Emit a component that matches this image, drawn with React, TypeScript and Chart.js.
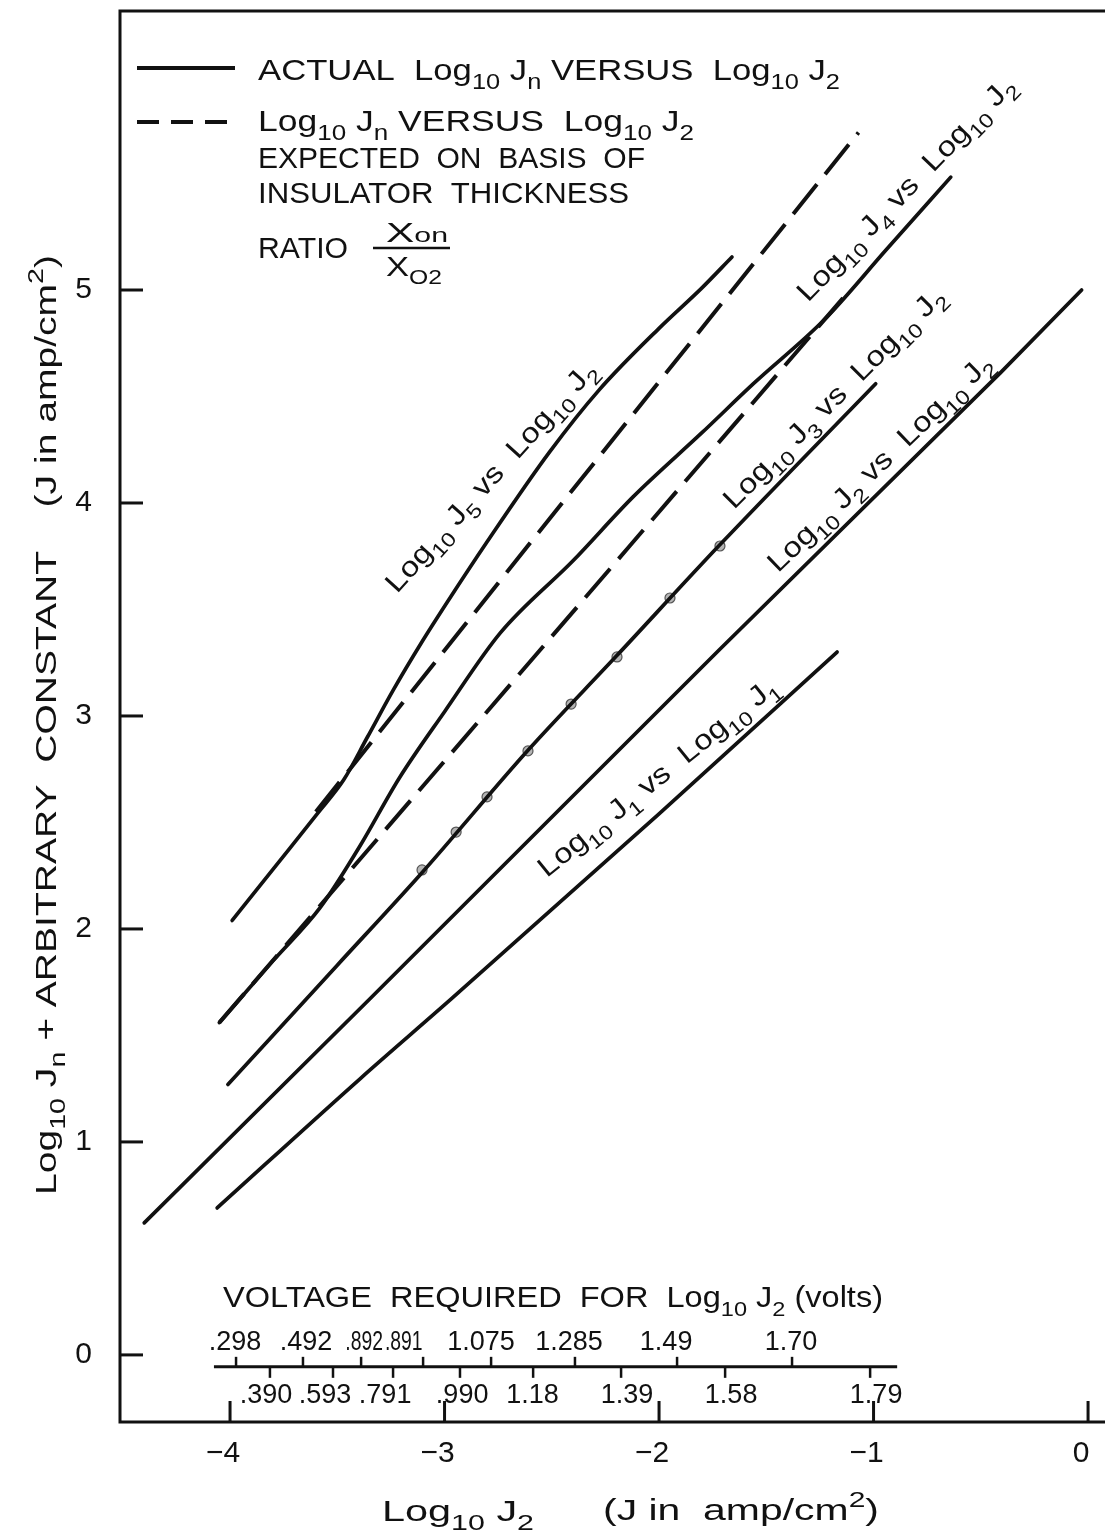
import React, { useEffect, useRef } from 'react';
import { Chart, registerables } from 'chart.js';

Chart.register(...registerables);

const FONT = '"Liberation Sans", Arial, sans-serif';
const INK = '#111111';

// axis ranges and ticks (Log10 J2 on x, Log10 Jn + const on y)
const X_MIN = -4.513;
const X_MAX = 0.079;
const Y_MIN = -0.315;
const Y_MAX = 6.31;
const xTicks = [-4, -3, -2, -1, 0];
const yTicks = [0, 1, 2, 3, 4, 5];

// actual curves (solid)
const j5X = [-3.99, -3.8, -3.59, -3.47, -3.36, -3.24, -3.11, -2.99, -2.8, -2.51, -2.28, -2.0, -1.8, -1.66];
const j5Y = [2.04, 2.28, 2.545, 2.7, 2.9, 3.12, 3.34, 3.53, 3.82, 4.24, 4.53, 4.82, 5.01, 5.155];

const j4X = [-4.05, -3.8, -3.58, -3.4, -3.21, -3.0, -2.74, -2.4, -2.12, -1.8, -1.56, -1.23, -0.94, -0.64];
const j4Y = [1.56, 1.85, 2.1, 2.38, 2.71, 3.02, 3.39, 3.73, 4.03, 4.33, 4.56, 4.86, 5.19, 5.53];

const j3X = [-4.01, -3.5, -3.1, -2.61, -2.2, -1.72, -0.99];
const j3Y = [1.27, 1.83, 2.27, 2.84, 3.28, 3.8, 4.56];

const j3PointsX = [-3.105, -2.946, -2.802, -2.611, -2.41, -2.196, -1.949, -1.716];
const j3PointsY = [2.277, 2.455, 2.62, 2.836, 3.056, 3.277, 3.554, 3.798];

const j2X = [-4.4, -3.35, -1.72, -0.41, -0.03];
const j2Y = [0.62, 1.67, 3.31, 4.61, 5.0];

const j1X = [-4.06, -3.39, -2.97, -2.0, -1.17];
const j1Y = [0.69, 1.3, 1.67, 2.54, 3.3];

// expected curves (dashed)
const j5ExpX = [-3.6, -2.555, -1.07];
const j5ExpY = [2.55, 3.87, 5.74];
const j4ExpX = [-4.05, -2.144, -1.11];
const j4ExpY = [1.56, 3.79, 5.0];

// voltage scale for Log10 J2
const voltY = -0.056;
const voltStart = -4.075;
const voltEnd = -0.89;
const voltUpperLabels = ['.298', '.492', '.892', '.891', '1.075', '1.285', '1.49', '1.70'];
const voltUpperTicks = [-3.972, -3.66, -3.389, -3.1, -2.783, -2.392, -1.916, -1.38];
const voltUpperLabelX = [-3.977, -3.646, -3.375, -3.19, -2.83, -2.42, -1.967, -1.385];
const voltLowerLabels = ['.390', '.593', '.791', '.990', '1.18', '1.39', '1.58', '1.79'];
const voltLowerTicks = [-3.814, -3.52, -3.24, -2.928, -2.587, -2.177, -1.692, -1.016];
const voltLowerLabelX = [-3.832, -3.557, -3.277, -2.918, -2.59, -2.149, -1.664, -0.988];

type Seg = [string, number]; // 0 normal, 1 subscript, 2 superscript, 3 small on baseline

const zip = (xs: number[], ys: number[]) => xs.map((v, i) => ({ x: v, y: ys[i] }));

function drawRich(
  ctx: CanvasRenderingContext2D,
  segs: Seg[],
  x: number,
  y: number,
  size: number,
  o: { align?: string; width?: number; maxWidth?: number; angle?: number; mid?: boolean } = {}
) {
  const subSize = Math.round(size * 0.72);
  const fontOf = (k: number) => `${k === 0 ? size : subSize}px ${FONT}`;
  ctx.save();
  let W = 0;
  const ws = segs.map(([t, k]) => {
    ctx.font = fontOf(k);
    const w = ctx.measureText(t).width;
    W += w;
    return w;
  });
  ctx.translate(x, y);
  if (o.angle) ctx.rotate((o.angle * Math.PI) / 180);
  let sx = o.width ? o.width / W : 1;
  if (o.maxWidth && W * sx > o.maxWidth) sx = o.maxWidth / W;
  ctx.scale(sx, 1);
  let cx = o.align === 'center' ? -W / 2 : o.align === 'right' ? -W : 0;
  const base = o.mid ? size * 0.36 : 0;
  ctx.fillStyle = INK;
  ctx.textBaseline = 'alphabetic';
  ctx.textAlign = 'left';
  segs.forEach(([t, k], i) => {
    ctx.font = fontOf(k);
    const dy = k === 1 ? size * 0.3 : k === 2 ? -size * 0.42 : 0;
    ctx.fillText(t, cx, base + dy);
    cx += ws[i];
  });
  ctx.restore();
}

const curveLabel = (n: string, m: string): Seg[] => [
  ['Log', 0], ['10', 1], [' J', 0], [n, 1], [' vs  Log', 0], ['10', 1], [' J', 0], [m, 1],
];

function drawScaleLabels(ctx: CanvasRenderingContext2D, xs: any, labels: string[], pos: number[], py: number) {
  const px = pos.map((v) => xs.getPixelForValue(v));
  labels.forEach((t, i) => {
    const dPrev = i > 0 ? px[i] - px[i - 1] : 999;
    const dNext = i < px.length - 1 ? px[i + 1] - px[i] : 999;
    drawRich(ctx, [[t, 0]], px[i], py, 27, { align: 'center', maxWidth: Math.min(dPrev, dNext) - 2 });
  });
}

const decor = {
  id: 'decor',
  beforeDraw(chart: any) {
    const ctx = chart.ctx;
    ctx.save();
    ctx.fillStyle = '#ffffff';
    ctx.fillRect(0, 0, chart.width, chart.height);
    ctx.restore();
  },
  afterDraw(chart: any) {
    const ctx: CanvasRenderingContext2D = chart.ctx;
    const a = chart.chartArea;
    const xs = chart.scales.x;
    const ys = chart.scales.y;
    const seg = (x1: number, y1: number, x2: number, y2: number) => {
      ctx.beginPath();
      ctx.moveTo(x1, y1);
      ctx.lineTo(x2, y2);
      ctx.stroke();
    };
    ctx.save();
    ctx.strokeStyle = INK;
    ctx.lineWidth = 3;
    // frame: top, left, bottom
    ctx.beginPath();
    ctx.moveTo(a.right, a.top);
    ctx.lineTo(a.left, a.top);
    ctx.lineTo(a.left, a.bottom);
    ctx.lineTo(a.right, a.bottom);
    ctx.stroke();
    // inward tick marks
    yTicks.forEach((v) => {
      const py = ys.getPixelForValue(v);
      seg(a.left, py, a.left + 23, py);
    });
    xTicks.forEach((v) => {
      const px = xs.getPixelForValue(v);
      seg(px, a.bottom, px, a.bottom - 21);
    });

    // voltage scale
    const vy = ys.getPixelForValue(voltY);
    ctx.lineWidth = 3;
    seg(xs.getPixelForValue(voltStart), vy, xs.getPixelForValue(voltEnd), vy);
    ctx.lineWidth = 2.5;
    voltUpperTicks.forEach((v) => {
      const px = xs.getPixelForValue(v);
      seg(px, vy - 10, px, vy);
    });
    voltLowerTicks.forEach((v) => {
      const px = xs.getPixelForValue(v);
      seg(px, vy, px, vy + 11);
    });
    drawScaleLabels(ctx, xs, voltUpperLabels, voltUpperLabelX, vy - 17);
    drawScaleLabels(ctx, xs, voltLowerLabels, voltLowerLabelX, vy + 36);
    drawRich(
      ctx,
      [['VOLTAGE  REQUIRED  FOR  Log', 0], ['10', 1], [' J', 0], ['2', 1], [' (volts)', 0]],
      223, 1307, 29, { width: 660 }
    );

    // legend
    ctx.lineWidth = 4;
    ctx.lineCap = 'butt';
    seg(137, 68, 235, 68);
    ctx.setLineDash([22, 12]);
    seg(137, 122, 235, 122);
    ctx.setLineDash([]);
    drawRich(ctx, [['ACTUAL  Log', 0], ['10', 1], [' J', 0], ['n', 1], [' VERSUS  Log', 0], ['10', 1], [' J', 0], ['2', 1]], 258, 80, 30, { width: 582 });
    drawRich(ctx, [['Log', 0], ['10', 1], [' J', 0], ['n', 1], [' VERSUS  Log', 0], ['10', 1], [' J', 0], ['2', 1]], 258, 131, 30, { width: 436 });
    drawRich(ctx, [['EXPECTED  ON  BASIS  OF', 0]], 258, 168, 30, { width: 387 });
    drawRich(ctx, [['INSULATOR  THICKNESS', 0]], 258, 203, 30, { width: 371 });
    drawRich(ctx, [['RATIO', 0]], 258, 258, 30, { width: 90 });
    drawRich(ctx, [['X', 0], ['on', 3]], 386, 242, 28, { width: 62 });
    ctx.lineWidth = 2.5;
    seg(373, 248, 450, 248);
    drawRich(ctx, [['X', 0], ['O2', 1]], 386, 276, 28, { width: 56 });

    // curve labels
    drawRich(ctx, curveLabel('5', '2'), 490, 476, 28, { align: 'center', width: 300, angle: -48, mid: true });
    drawRich(ctx, curveLabel('4', '2'), 905, 188, 28, { align: 'center', width: 300, angle: -46, mid: true });
    drawRich(ctx, curveLabel('3', '2'), 833, 397, 28, { align: 'center', width: 300, angle: -45, mid: true });
    drawRich(ctx, curveLabel('2', '2'), 879, 462, 28, { align: 'center', width: 300, angle: -44, mid: true });
    drawRich(ctx, curveLabel('1', '1'), 657, 776, 28, { align: 'center', width: 300, angle: -39, mid: true });

    // axis titles
    drawRich(ctx, [['Log', 0], ['10', 1], [' J', 0], ['2', 1]], 382, 1521, 30, { width: 152 });
    drawRich(ctx, [['(J in  amp/cm', 0], ['2', 2], [')', 0]], 603, 1520, 30, { width: 276 });
    drawRich(
      ctx,
      [['Log', 0], ['10', 1], [' J', 0], ['n', 1], [' + ARBITRARY  CONSTANT    (J in amp/cm', 0], ['2', 2], [')', 0]],
      56, 1195, 30, { width: 940, angle: -90 }
    );
    ctx.restore();
  },
};

export default function App() {
  const ref = useRef<HTMLCanvasElement | null>(null);

  useEffect(() => {
    if (!ref.current) return;
    const solid = (data: any[], smooth: boolean) => ({
      data,
      showLine: true,
      borderColor: INK,
      borderWidth: 3.7,
      borderCapStyle: 'round',
      pointRadius: 0,
      tension: smooth ? 0.4 : 0,
      cubicInterpolationMode: smooth ? 'monotone' : 'default',
    });
    const dashed = (data: any[]) => ({
      data,
      showLine: true,
      borderColor: INK,
      borderWidth: 4,
      borderDash: [38, 13],
      pointRadius: 0,
      tension: 0,
    });
    const chart = new Chart(ref.current, {
      type: 'scatter',
      data: {
        datasets: [
          solid(zip(j5X, j5Y), true),
          solid(zip(j4X, j4Y), true),
          solid(zip(j3X, j3Y), true),
          solid(zip(j2X, j2Y), false),
          solid(zip(j1X, j1Y), true),
          dashed(zip(j5ExpX, j5ExpY)),
          dashed(zip(j4ExpX, j4ExpY)),
          {
            data: zip(j3PointsX, j3PointsY),
            showLine: false,
            pointRadius: 5,
            pointBackgroundColor: '#b5b5b5',
            pointBorderColor: '#555555',
            pointBorderWidth: 1.2,
          },
        ] as any,
      },
      options: {
        animation: false,
        responsive: false,
        maintainAspectRatio: false,
        layout: { autoPadding: false, padding: { top: 11, left: 0, right: 0, bottom: 0 } },
        plugins: { legend: { display: false }, tooltip: { enabled: false } },
        scales: {
          x: {
            type: 'linear',
            min: X_MIN,
            max: X_MAX,
            grid: { display: false },
            border: { display: false },
            ticks: {
              color: INK,
              font: { family: FONT, size: 30 },
              padding: 6,
              labelOffset: -7,
              maxRotation: 0,
              callback: (v: any) => (Number(v) < 0 ? '\u2212' + Math.abs(Number(v)) : String(v)),
            },
            afterBuildTicks: (axis: any) => {
              axis.ticks = xTicks.map((v) => ({ value: v }));
            },
            afterFit: (axis: any) => {
              axis.height = 115;
              axis.paddingLeft = 0;
              axis.paddingRight = 0;
              axis.paddingTop = 0;
              axis.paddingBottom = 0;
            },
          },
          y: {
            type: 'linear',
            min: Y_MIN,
            max: Y_MAX,
            grid: { display: false },
            border: { display: false },
            ticks: {
              color: INK,
              font: { family: FONT, size: 30 },
              padding: 20,
              callback: (v: any) => String(v),
            },
            afterBuildTicks: (axis: any) => {
              axis.ticks = yTicks.map((v) => ({ value: v }));
            },
            afterFit: (axis: any) => {
              axis.width = 120;
              axis.paddingLeft = 0;
              axis.paddingRight = 0;
              axis.paddingTop = 0;
              axis.paddingBottom = 0;
            },
          },
        },
      } as any,
      plugins: [decor as any],
    });
    return () => chart.destroy();
  }, []);

  return (
    <div style={{ position: 'absolute', left: 0, top: 0, width: 1105, height: 1537, background: '#fff' }}>
      <canvas ref={ref} width={1105} height={1537} style={{ width: 1105, height: 1537, display: 'block' }} />
    </div>
  );
}
